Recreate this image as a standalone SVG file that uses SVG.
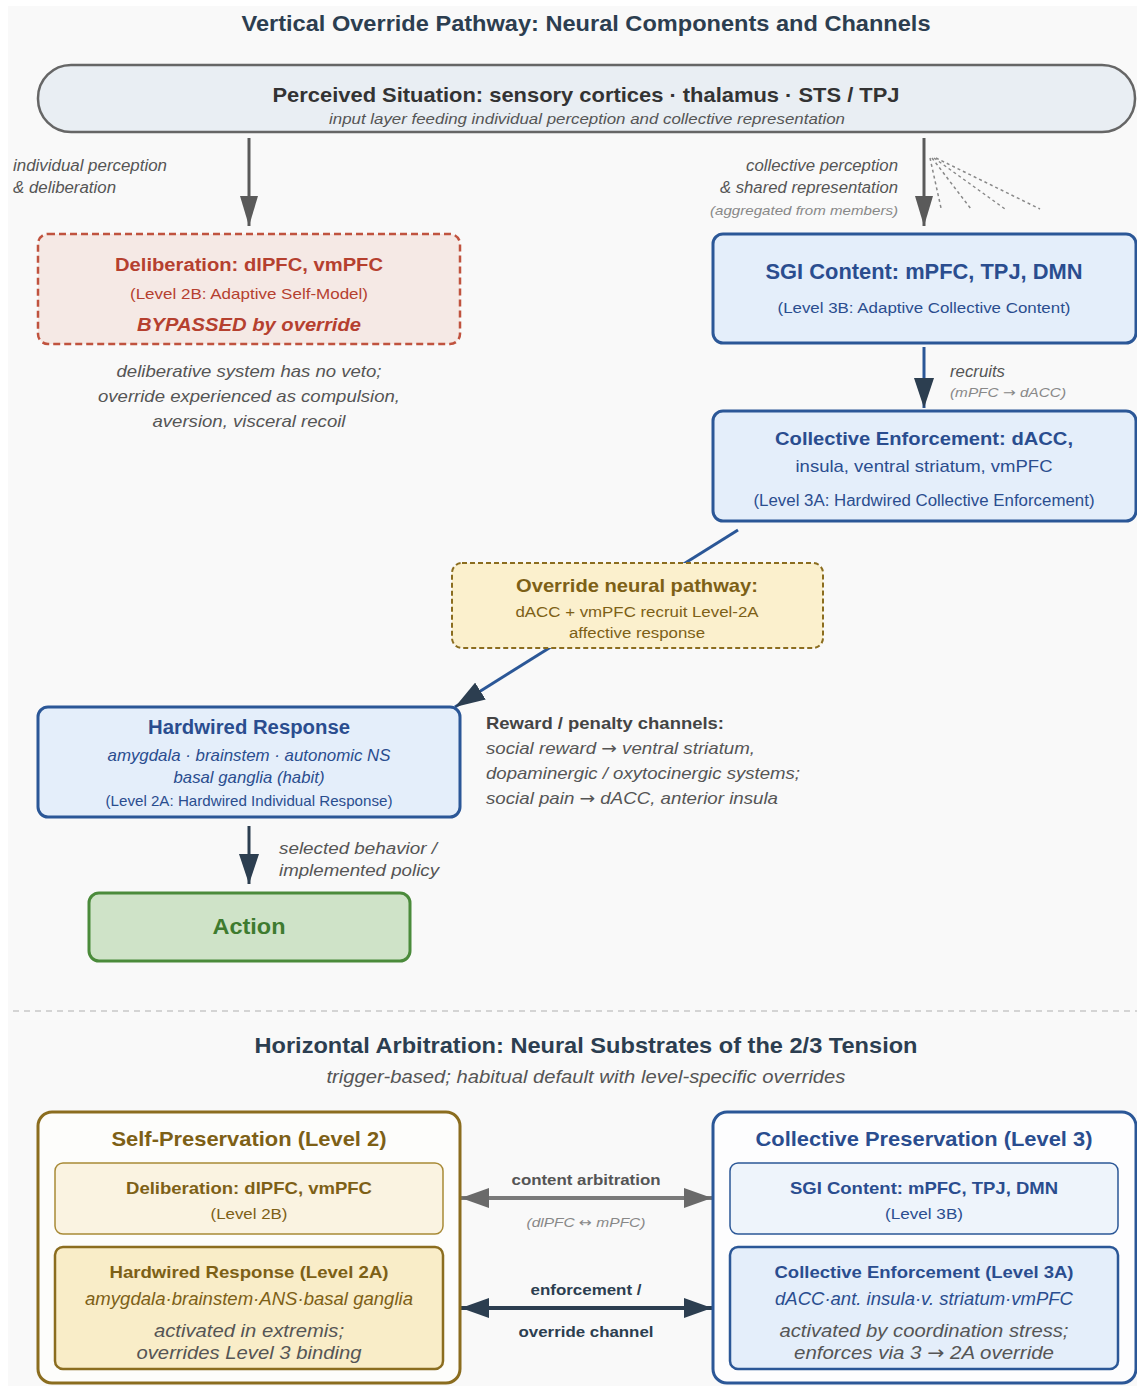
<svg xmlns="http://www.w3.org/2000/svg" width="1137" height="1386" viewBox="0 0 1137 1386">
  <style>
    text { font-family: "Liberation Sans", Arial, sans-serif; }
    .title { font-size: 22.5px; font-weight: bold; fill: #2c3e50; text-anchor: middle; }
    .lbl { font-size: 16px; font-style: italic; fill: #555; }
    .lblsm { font-size: 13px; font-style: italic; fill: #888; }
    .mid { text-anchor: middle; }
    .end { text-anchor: end; }
    .b { font-weight: bold; }
    .i { font-style: italic; }
    .blue { fill: #2a4d8f; }
    .gold { fill: #7d6016; }
    .arw { font-family: "DejaVu Sans", sans-serif; }
    .boxblue { fill: #e4eefa; stroke: #2b5797; stroke-width: 3; }
    .boxgold { fill: #fbf0cd; stroke: #8b6d1f; stroke-width: 2; stroke-dasharray: 5 3; }
  </style>
  <defs>
    <marker id="headGrey" markerUnits="userSpaceOnUse" markerWidth="30" markerHeight="18" refX="30" refY="9" orient="auto">
      <path d="M0,0 L30,9 L0,18 z" fill="#5a5a5a"/>
    </marker>
    <marker id="headDark" markerUnits="userSpaceOnUse" markerWidth="30" markerHeight="20" refX="30" refY="10" orient="auto">
      <path d="M0,0 L30,10 L0,20 z" fill="#2c3e50"/>
    </marker>
    <marker id="hGrey" markerUnits="userSpaceOnUse" markerWidth="28" markerHeight="20" refX="28" refY="10" orient="auto-start-reverse">
      <path d="M0,0 L28,10 L0,20 z" fill="#6a6a6a"/>
    </marker>
    <marker id="hDark" markerUnits="userSpaceOnUse" markerWidth="28" markerHeight="20" refX="28" refY="10" orient="auto-start-reverse">
      <path d="M0,0 L28,10 L0,20 z" fill="#2c3e50"/>
    </marker>
  </defs>

  <!-- page -->
  <rect x="0" y="0" width="1137" height="1386" fill="#ffffff"/>
  <rect x="8" y="6" width="1129" height="1380" fill="#f9f9f9"/>

  <text class="title" x="586" y="31" textLength="689" lengthAdjust="spacingAndGlyphs">Vertical Override Pathway: Neural Components and Channels</text>

  <!-- connectors -->
  <g id="connectors" fill="none">
    <line x1="249" y1="138" x2="249" y2="226" stroke="#5a5a5a" stroke-width="3" marker-end="url(#headGrey)"/>
    <line x1="924" y1="138" x2="924" y2="226" stroke="#5a5a5a" stroke-width="3" marker-end="url(#headGrey)"/>
    <g stroke="#888" stroke-width="1.5" stroke-dasharray="3 3">
      <line x1="930" y1="158" x2="941" y2="208"/>
      <line x1="932" y1="158" x2="971" y2="209"/>
      <line x1="934" y1="158" x2="1005" y2="209"/>
      <line x1="936" y1="158" x2="1040" y2="209"/>
    </g>
    <line x1="924" y1="347" x2="924" y2="408" stroke="#2b5797" stroke-width="3" marker-end="url(#headDark)"/>
    <line x1="738" y1="530" x2="455" y2="707" stroke="#2b5797" stroke-width="3" marker-end="url(#headDark)"/>
    <line x1="249" y1="826" x2="249" y2="884" stroke="#2c3e50" stroke-width="3" marker-end="url(#headDark)"/>
    <line x1="461" y1="1198" x2="712" y2="1198" stroke="#7a7a7a" stroke-width="4" marker-start="url(#hGrey)" marker-end="url(#hGrey)"/>
    <line x1="461" y1="1308" x2="712" y2="1308" stroke="#2c3e50" stroke-width="4" marker-start="url(#hDark)" marker-end="url(#hDark)"/>
  </g>

  <!-- connector labels -->
  <g id="connector-labels">
    <text class="lbl" x="13" y="171" textLength="154" lengthAdjust="spacingAndGlyphs">individual perception</text>
    <text class="lbl" x="13" y="193" textLength="103" lengthAdjust="spacingAndGlyphs">&amp; deliberation</text>
    <text class="lbl end" x="898" y="171" textLength="152" lengthAdjust="spacingAndGlyphs">collective perception</text>
    <text class="lbl end" x="898" y="193" textLength="178" lengthAdjust="spacingAndGlyphs">&amp; shared representation</text>
    <text class="lblsm end" x="898" y="215" textLength="188" lengthAdjust="spacingAndGlyphs">(aggregated from members)</text>
    <text class="lbl" x="950" y="377" textLength="55" lengthAdjust="spacingAndGlyphs">recruits</text>
    <text class="lblsm" x="950" y="397" textLength="116" lengthAdjust="spacingAndGlyphs">(mPFC <tspan class="arw">→</tspan> dACC)</text>
    <text class="lbl" x="279" y="854" font-size="17" textLength="158" lengthAdjust="spacingAndGlyphs">selected behavior /</text>
    <text class="lbl" x="279" y="876" font-size="17" textLength="160" lengthAdjust="spacingAndGlyphs">implemented policy</text>
    <text class="mid b" x="586" y="1185" font-size="15" fill="#555" textLength="149" lengthAdjust="spacingAndGlyphs">content arbitration</text>
    <text class="lblsm mid" x="586" y="1227" textLength="119" lengthAdjust="spacingAndGlyphs">(dlPFC <tspan class="arw">↔</tspan> mPFC)</text>
    <text class="mid b" x="586" y="1295" font-size="15" fill="#2c3e50" textLength="111" lengthAdjust="spacingAndGlyphs">enforcement /</text>
    <text class="mid b" x="586" y="1337" font-size="15" fill="#2c3e50" textLength="135" lengthAdjust="spacingAndGlyphs">override channel</text>
  </g>

  <!-- input layer -->
  <g id="perceived-situation">
    <rect x="38" y="65" width="1097" height="67" rx="33" fill="#e9eef3" stroke="#666" stroke-width="2.5"/>
    <text class="mid b" x="586" y="102" font-size="20.5" fill="#333" textLength="627" lengthAdjust="spacingAndGlyphs">Perceived Situation: sensory cortices · thalamus · STS / TPJ</text>
    <text class="mid i" x="587" y="124" font-size="15" fill="#555" textLength="516" lengthAdjust="spacingAndGlyphs">input layer feeding individual perception and collective representation</text>
  </g>

  <g id="deliberation">
    <rect x="38" y="234" width="422" height="110" rx="10" fill="#f5e9e5" stroke="#c0533f" stroke-width="2.5" stroke-dasharray="7 4"/>
    <text class="mid b" x="249" y="271" font-size="18" fill="#b5402f" textLength="268" lengthAdjust="spacingAndGlyphs">Deliberation: dlPFC, vmPFC</text>
    <text class="mid" x="249" y="299" font-size="15" fill="#b5402f" textLength="238" lengthAdjust="spacingAndGlyphs">(Level 2B: Adaptive Self-Model)</text>
    <text class="mid b i" x="249" y="331" font-size="18.5" fill="#b5402f" textLength="224" lengthAdjust="spacingAndGlyphs">BYPASSED by override</text>
  </g>

  <g id="bypass-note">
    <text class="mid i" x="249" y="377" font-size="17" fill="#555" textLength="265" lengthAdjust="spacingAndGlyphs">deliberative system has no veto;</text>
    <text class="mid i" x="249" y="402" font-size="17" fill="#555" textLength="302" lengthAdjust="spacingAndGlyphs">override experienced as compulsion,</text>
    <text class="mid i" x="249" y="427" font-size="17" fill="#555" textLength="193" lengthAdjust="spacingAndGlyphs">aversion, visceral recoil</text>
  </g>

  <g id="sgi-content">
    <rect class="boxblue" x="713" y="234" width="423" height="109" rx="10"/>
    <text class="mid b blue" x="924" y="279" font-size="21.5" textLength="317" lengthAdjust="spacingAndGlyphs">SGI Content: mPFC, TPJ, DMN</text>
    <text class="mid blue" x="924" y="313" font-size="15.5" textLength="293" lengthAdjust="spacingAndGlyphs">(Level 3B: Adaptive Collective Content)</text>
  </g>

  <g id="collective-enforcement">
    <rect class="boxblue" x="713" y="411" width="423" height="110" rx="10"/>
    <text class="mid b blue" x="924" y="445" font-size="19" textLength="298" lengthAdjust="spacingAndGlyphs">Collective Enforcement: dACC,</text>
    <text class="mid blue" x="924" y="472" font-size="17" textLength="257" lengthAdjust="spacingAndGlyphs">insula, ventral striatum, vmPFC</text>
    <text class="mid blue" x="924" y="506" font-size="16" textLength="341" lengthAdjust="spacingAndGlyphs">(Level 3A: Hardwired Collective Enforcement)</text>
  </g>

  <g id="override-pathway">
    <rect class="boxgold" x="452" y="563" width="371" height="85" rx="10"/>
    <text class="mid b gold" x="637" y="592" font-size="18.5" textLength="242" lengthAdjust="spacingAndGlyphs">Override neural pathway:</text>
    <text class="mid gold" x="637" y="617" font-size="15.5" textLength="243" lengthAdjust="spacingAndGlyphs">dACC + vmPFC recruit Level-2A</text>
    <text class="mid gold" x="637" y="638" font-size="15.5" textLength="136" lengthAdjust="spacingAndGlyphs">affective response</text>
  </g>

  <g id="hardwired-response">
    <rect class="boxblue" x="38" y="707" width="422" height="110" rx="10"/>
    <text class="mid b blue" x="249" y="734" font-size="19.5" textLength="202" lengthAdjust="spacingAndGlyphs">Hardwired Response</text>
    <text class="mid i blue" x="249" y="761" font-size="16.5" textLength="283" lengthAdjust="spacingAndGlyphs">amygdala · brainstem · autonomic NS</text>
    <text class="mid i blue" x="249" y="783" font-size="16.5" textLength="151" lengthAdjust="spacingAndGlyphs">basal ganglia (habit)</text>
    <text class="mid blue" x="249" y="806" font-size="14.5" textLength="287" lengthAdjust="spacingAndGlyphs">(Level 2A: Hardwired Individual Response)</text>
  </g>

  <g id="reward-channels">
    <text class="b" x="486" y="729" font-size="17" fill="#444" textLength="238" lengthAdjust="spacingAndGlyphs">Reward / penalty channels:</text>
    <text class="i" x="486" y="754" font-size="17" fill="#555" textLength="269" lengthAdjust="spacingAndGlyphs">social reward <tspan class="arw">→</tspan> ventral striatum,</text>
    <text class="i" x="486" y="779" font-size="17" fill="#555" textLength="314" lengthAdjust="spacingAndGlyphs">dopaminergic / oxytocinergic systems;</text>
    <text class="i" x="486" y="804" font-size="17" fill="#555" textLength="292" lengthAdjust="spacingAndGlyphs">social pain <tspan class="arw">→</tspan> dACC, anterior insula</text>
  </g>

  <g id="action">
    <rect x="89" y="893" width="321" height="68" rx="10" fill="#cfe3c8" stroke="#4b8b3b" stroke-width="3"/>
    <text class="mid b" x="249" y="934" font-size="22.5" fill="#3e7b2f" textLength="73" lengthAdjust="spacingAndGlyphs">Action</text>
  </g>

  <!-- section divider -->
  <line x1="13" y1="1011" x2="1137" y2="1011" stroke="#c8c8c8" stroke-width="1.5" stroke-dasharray="6 5"/>

  <text class="title" x="586" y="1053" textLength="663" lengthAdjust="spacingAndGlyphs">Horizontal Arbitration: Neural Substrates of the 2/3 Tension</text>
  <text class="mid i" x="586" y="1083" font-size="17.5" fill="#555" textLength="519" lengthAdjust="spacingAndGlyphs">trigger-based; habitual default with level-specific overrides</text>

  <g id="self-preservation">
    <rect x="38" y="1112" width="422" height="271" rx="14" fill="#fdfdfb" stroke="#8b6d1f" stroke-width="3"/>
    <text class="mid b gold" x="249" y="1146" font-size="20.5" textLength="275" lengthAdjust="spacingAndGlyphs">Self-Preservation (Level 2)</text>
    <g id="self-deliberation">
      <rect x="55" y="1163" width="388" height="71" rx="8" fill="#faf3e1" stroke="#a88a36" stroke-width="1.5"/>
      <text class="mid b gold" x="249" y="1194" font-size="17" textLength="246" lengthAdjust="spacingAndGlyphs">Deliberation: dlPFC, vmPFC</text>
      <text class="mid gold" x="249" y="1219" font-size="15" textLength="77" lengthAdjust="spacingAndGlyphs">(Level 2B)</text>
    </g>
    <g id="self-hardwired">
      <rect x="55" y="1247" width="388" height="122" rx="8" fill="#f9edc8" stroke="#8b6d1f" stroke-width="2.5"/>
      <text class="mid b gold" x="249" y="1278" font-size="17" textLength="279" lengthAdjust="spacingAndGlyphs">Hardwired Response (Level 2A)</text>
      <text class="mid i gold" x="249" y="1305" font-size="17.5" textLength="328" lengthAdjust="spacingAndGlyphs">amygdala·brainstem·ANS·basal ganglia</text>
      <text class="mid i" x="249" y="1337" font-size="18.5" fill="#555" textLength="190" lengthAdjust="spacingAndGlyphs">activated in extremis;</text>
      <text class="mid i" x="249" y="1359" font-size="18.5" fill="#555" textLength="225" lengthAdjust="spacingAndGlyphs">overrides Level 3 binding</text>
    </g>
  </g>

  <g id="collective-preservation">
    <rect x="713" y="1112" width="423" height="271" rx="14" fill="#fdfdfe" stroke="#2b5797" stroke-width="3"/>
    <text class="mid b blue" x="924" y="1146" font-size="20.5" textLength="337" lengthAdjust="spacingAndGlyphs">Collective Preservation (Level 3)</text>
    <g id="collective-sgi">
      <rect x="730" y="1163" width="388" height="71" rx="8" fill="#eef4fb" stroke="#2b5797" stroke-width="1.5"/>
      <text class="mid b blue" x="924" y="1194" font-size="17" textLength="268" lengthAdjust="spacingAndGlyphs">SGI Content: mPFC, TPJ, DMN</text>
      <text class="mid blue" x="924" y="1219" font-size="15" textLength="78" lengthAdjust="spacingAndGlyphs">(Level 3B)</text>
    </g>
    <g id="collective-enforcement-3a">
      <rect x="730" y="1247" width="388" height="122" rx="8" fill="#e4eefa" stroke="#2b5797" stroke-width="2.5"/>
      <text class="mid b blue" x="924" y="1278" font-size="17" textLength="299" lengthAdjust="spacingAndGlyphs">Collective Enforcement (Level 3A)</text>
      <text class="mid i blue" x="924" y="1305" font-size="17.5" textLength="298" lengthAdjust="spacingAndGlyphs">dACC·ant. insula·v. striatum·vmPFC</text>
      <text class="mid i" x="924" y="1337" font-size="18.5" fill="#555" textLength="289" lengthAdjust="spacingAndGlyphs">activated by coordination stress;</text>
      <text class="mid i" x="924" y="1359" font-size="18.5" fill="#555" textLength="260" lengthAdjust="spacingAndGlyphs">enforces via 3 <tspan class="arw">→</tspan> 2A override</text>
    </g>
  </g>
</svg>
